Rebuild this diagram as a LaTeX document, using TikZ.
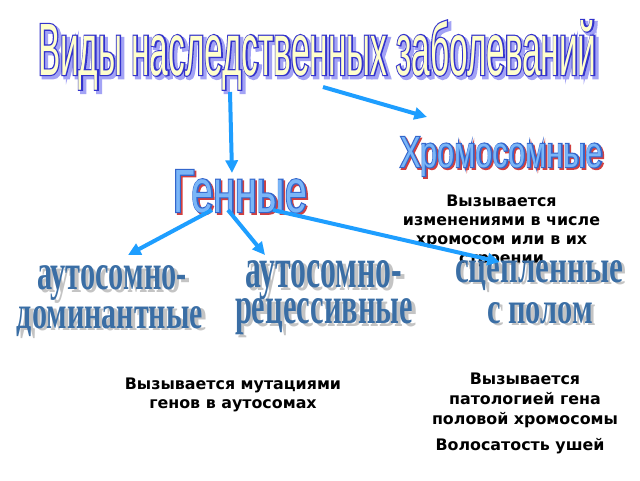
\documentclass[tikz,border=0pt]{standalone}
\usepackage{fontspec}
\usepackage{graphicx}
\usetikzlibrary{arrows.meta}
\setmainfont{DejaVu Sans}
\newfontfamily\ttlfont[FakeStretch=0.45]{Liberation Sans}
\newfontfamily\chrfont[FakeStretch=0.77]{Liberation Sans}
\newfontfamily\genfont[FakeStretch=0.66]{Liberation Sans}
\newfontfamily\lowfont[FakeStretch=0.56]{Liberation Serif Bold}
\definecolor{ttlFill}{HTML}{FFFFCC}
\definecolor{ttlSh}{HTML}{A4A4F4}
\definecolor{chrFill}{HTML}{7AB6F8}
\definecolor{chrSh}{HTML}{D04040}
\definecolor{lowFill}{HTML}{3A6EA5}
\definecolor{lowSh}{HTML}{C4C4C4}
\definecolor{arr}{HTML}{1E9EFF}
% layered WordArt-like text:
% #1 shadow colour, #2 shadow pdf ops, #3 dx, #4 dy, #5 fill colour, #6 outline pdf ops, #7 text
\newcommand{\layered}[7]{%
  \rlap{\kern#3\lower#4\hbox{\color{#1}\special{pdf:literal direct #2}#7\special{pdf:literal direct 0 Tr}}}%
  \rlap{\color{#5}\special{pdf:literal direct #6}#7\special{pdf:literal direct 0 Tr}}%
  \color{#5}#7}
\newcommand{\ttltext}[1]{\resizebox{419pt}{41.25pt}{\ttlfont\fontsize{55.5}{60}\selectfont
  \layered{ttlSh}{0.64 0.64 0.96 RG 2 Tr 2.6 w}{2pt}{2pt}{ttlFill}{0.2 0.2 0.8 RG 2 Tr 1.8 w}{#1}}}
\newcommand{\chrtext}[4]{\resizebox{#1}{#2}{#3%
  \layered{chrSh}{0.82 0.25 0.25 RG 2 Tr 1.6 w}{1.2pt}{1.2pt}{chrFill}{0.2 0.4 0.8 RG 2 Tr 1.6 w}{#4}}}
\newcommand{\lowart}[3]{\resizebox{#1}{#2}{\lowfont\fontsize{40}{44}\selectfont
  \rlap{\kern2.6pt\lower2.4pt\hbox{\color{lowSh}#3}}\color{lowFill}#3}}
\tikzset{
  wa/.style={inner sep=0pt, outer sep=0pt, anchor=base west},
  desc/.style={inner sep=0pt, outer sep=0pt, anchor=north, align=center,
    font=\bfseries\fontsize{11.9}{14.25}\selectfont},
  conn/.style={draw=arr, line width=3pt, -{Triangle[length=9.5pt,width=9pt]}}
}
\begin{document}
\begin{tikzpicture}[x=0.75pt,y=-0.75pt]
\useasboundingbox[fill=white] (0,0) rectangle (640,480);

% descriptions
\node[desc] (d1) at (501.5,195) {Вызывается\\изменениями в числе\\хромосом или в их\\строении};
\node[desc] (d2) at (233,378) {Вызывается мутациями\\генов в аутосомах};
\node[desc, font=\bfseries\fontsize{11.9}{14.8}\selectfont] (d3) at (525,373) {Вызывается\\патологией гена\\половой хромосомы};
\node[desc] (d4) at (520,438) {Волосатость ушей};

% title
\node[wa] (ttl) at (38,75) {\ttltext{Виды наследственных заболеваний}};

% Хромосомные
\node[wa] (chr) at (400,167) {\chrtext{152.25pt}{22.5pt}{\chrfont\fontsize{31.4}{34}\selectfont}{Хромосомные}};

% Генные
\node[wa] (gen) at (173,212) {\chrtext{100.5pt}{31.5pt}{\genfont\fontsize{44}{48}\selectfont}{Генные}};

% lower groups
\node[wa] (ad1) at (37,289) {\lowart{112.5pt}{18pt}{аутосомно-}};
\node[wa] (ad2) at (17,328) {\lowart{139.5pt}{16.5pt}{доминантные}};
\node[wa] (ar1) at (245,287) {\lowart{117.75pt}{20.25pt}{аутосомно-}};
\node[wa] (ar2) at (235,323) {\lowart{133.5pt}{18.75pt}{рецессивные}};
\node[wa] (sp1) at (455,282) {\lowart{126pt}{16.5pt}{сцепленные}};
\node[wa] (sp2) at (487,323) {\lowart{79.5pt}{15.75pt}{с полом}};

% connector end points
\coordinate (a1s) at (230,92);
\coordinate (a1e) at (232,173);
\coordinate (a2s) at (323,87);
\coordinate (a2e) at (427,117);
\coordinate (a3s) at (212,210);
\coordinate (a3e) at (128,255);
\coordinate (a4s) at (228,210);
\coordinate (a4e) at (265,255);
\coordinate (a5s) at (273,210);
\coordinate (a5e) at (500,262);

\draw[conn] (a1s) -- (a1e);
\draw[conn] (a2s) -- (a2e);
\draw[conn] (a3s) -- (a3e);
\draw[conn] (a4s) -- (a4e);
\draw[conn] (a5s) -- (a5e);
\end{tikzpicture}
\end{document}
